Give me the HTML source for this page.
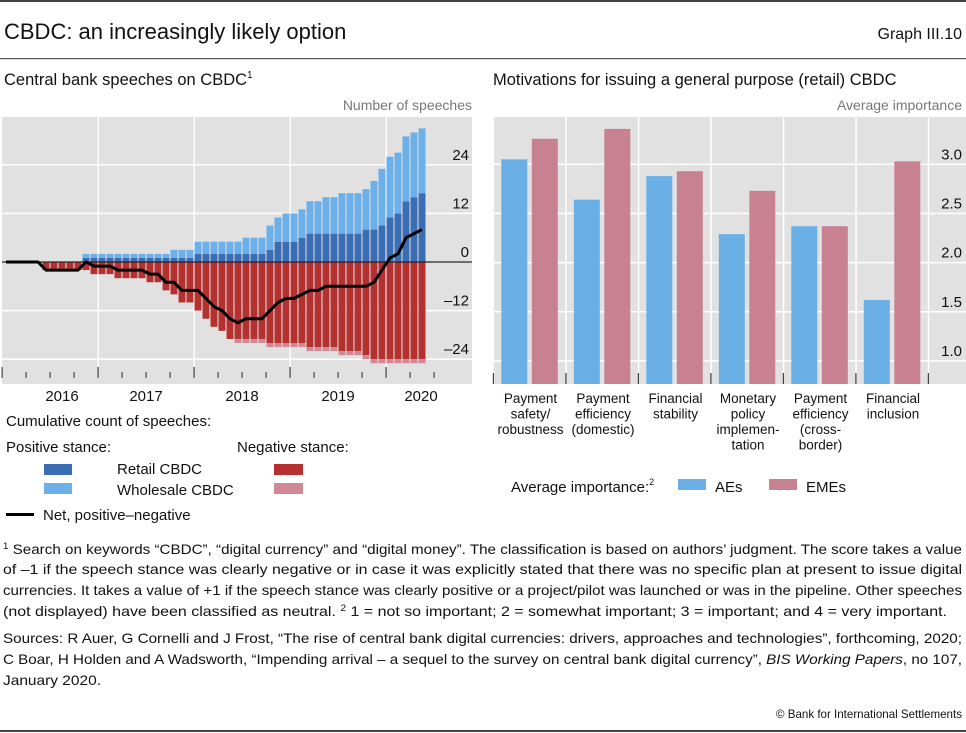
<!DOCTYPE html>
<html><head><meta charset="utf-8">
<style>
html,body{margin:0;padding:0;background:#fff;}
svg{display:block;font-family:"Liberation Sans",sans-serif;}
</style></head>
<body>
<svg id="page" width="966" height="733" viewBox="0 0 966 733" xmlns="http://www.w3.org/2000/svg">
<rect x="0" y="0" width="966" height="2" fill="#444"/>
<text x="4" y="39" font-size="22" fill="#111">CBDC: an increasingly likely option</text>
<text x="962" y="39" font-size="16" fill="#111" text-anchor="end">Graph III.10</text>
<rect x="0" y="58" width="966" height="1.2" fill="#555"/>
<text x="4" y="85" font-size="16.5" fill="#111">Central bank speeches on CBDC<tspan font-size="10" dy="-7">1</tspan></text>
<text x="493" y="85" font-size="16.5" fill="#111">Motivations for issuing a general purpose (retail) CBDC</text>
<text x="472" y="110" font-size="14" fill="#777" text-anchor="end">Number of speeches</text>
<text x="962" y="110" font-size="14" fill="#777" text-anchor="end">Average importance</text>

<rect x="2" y="117" width="470" height="267" fill="#e1e1e1"/>
<g id="left"></g>
<rect x="494" y="117" width="472" height="267" fill="#e1e1e1"/>
<g id="right"></g>

<!-- left legend -->
<text x="6" y="426" font-size="15" fill="#111">Cumulative count of speeches:</text>
<text x="6" y="452" font-size="15" fill="#111">Positive stance:</text>
<text x="237" y="452" font-size="15" fill="#111">Negative stance:</text>
<rect x="44" y="464" width="28" height="11" fill="#3b6db5"/>
<text x="117" y="474" font-size="15" fill="#111">Retail CBDC</text>
<rect x="274" y="464" width="29" height="11" fill="#b5312f"/>
<rect x="44" y="483" width="28" height="11" fill="#6bb0e8"/>
<text x="117" y="495" font-size="15" fill="#111">Wholesale CBDC</text>
<rect x="274" y="483" width="29" height="11" fill="#d08796"/>
<rect x="6" y="513" width="28" height="3" fill="#000"/>
<text x="43" y="520" font-size="15" fill="#111">Net, positive–negative</text>

<!-- right legend -->
<text x="511" y="492" font-size="15" fill="#111">Average importance:<tspan font-size="9" dy="-7">2</tspan></text>
<rect x="678" y="479" width="28" height="11" fill="#6aafe6"/>
<text x="715" y="492" font-size="15" fill="#111">AEs</text>
<rect x="769" y="479" width="28" height="11" fill="#c88191"/>
<text x="806" y="492" font-size="15" fill="#111">EMEs</text>

<!-- footnotes -->
<g font-size="14" fill="#111">
<text x="3" y="554" textLength="959" lengthAdjust="spacingAndGlyphs"><tspan font-size="9" dy="-5">1</tspan><tspan dy="5">  Search on keywords “CBDC”, “digital currency” and “digital money”. The classification is based on authors’ judgment. The score takes a value</tspan></text>
<text x="3" y="574" textLength="959" lengthAdjust="spacingAndGlyphs">of –1 if the speech stance was clearly negative or in case it was explicitly stated that there was no specific plan at present to issue digital</text>
<text x="3" y="595" textLength="959" lengthAdjust="spacingAndGlyphs">currencies. It takes a value of +1 if the speech stance was clearly positive or a project/pilot was launched or was in the pipeline. Other speeches</text>
<text x="3" y="616" textLength="944" lengthAdjust="spacingAndGlyphs">(not displayed) have been classified as neutral.    <tspan font-size="9" dy="-5">2</tspan><tspan dy="5">  1 = not so important; 2 = somewhat important; 3 = important; and 4 = very important.</tspan></text>
<text x="3" y="643" textLength="959" lengthAdjust="spacingAndGlyphs">Sources: R Auer, G Cornelli and J Frost, “The rise of central bank digital currencies: drivers, approaches and technologies”, forthcoming, 2020;</text>
<text x="3" y="664" textLength="959" lengthAdjust="spacingAndGlyphs">C Boar, H Holden and A Wadsworth, “Impending arrival – a sequel to the survey on central bank digital currency”, <tspan font-style="italic">BIS Working Papers</tspan>, no 107,</text>
<text x="3" y="685" textLength="98" lengthAdjust="spacingAndGlyphs">January 2020.</text>
<text x="962" y="718" font-size="12" text-anchor="end" textLength="186" lengthAdjust="spacingAndGlyphs">© Bank for International Settlements</text>
</g>
<rect x="0" y="730" width="966" height="2" fill="#444"/>
</svg>
<script>
// ---- left chart data (monthly, Jan 2016 .. May 2020) ----
const monthCount = 53;
const yearLabels = ["2016","2017","2018","2019","2020"];
const leftTicks = [24,12,0,-12,-24];
// positive retail
const posRetail = [0,0,0,0,0,0,0,0,0,0,1,1,1,1,1,1,1,1,1,1,1,1,1,1,2,2,2,2,2,2,2,2,2,3,5,5,5,6,7,7,7,7,7,7,7,8,8,9,11,12,15,16,17];
// positive wholesale
const posWholesale = [0,0,0,0,0,0,0,0,0,0,1,1,1,1,1,1,1,1,1,1,1,2,2,2,3,3,3,3,3,3,4,4,4,6,6,7,7,7,8,8,9,9,10,10,10,10,12,14,15,15,16,16,16];
// negative retail (magnitude)
const negRetail = [0,0,0,0,0,2,2,2,2,2,2,3,3,3,4,4,4,4,5,5,7,8,10,10,12,14,16,17,19,19,19,19,19,20,20,20,20,20,21,21,21,21,22,22,22,23,24,24,24,24,24,24,24];
// negative wholesale (magnitude)
const negWholesale = [0,0,0,0,0,0,0,0,0,0,0,0,0,0,0,0,0,0,0,0,0,0,0,0,0,0,0,0,0,1,1,1,1,1,1,1,1,1,1,1,1,1,1,1,1,1,1,1,1,1,1,1,1];

// ---- right chart data ----
const categories = [["Payment","safety/","robustness"],["Payment","efficiency","(domestic)"],["Financial","stability"],["Monetary","policy","implemen-","tation"],["Payment","efficiency","(cross-","border)"],["Financial","inclusion"]];
const aesValues = [3.05,2.64,2.88,2.29,2.37,1.62];
const emesValues = [3.26,3.36,2.93,2.73,2.37,3.03];
const rightTicks = [3.0,2.5,2.0,1.5,1.0];

const NS = "http://www.w3.org/2000/svg";
function mk(tag, attrs, parent){
  const e = document.createElementNS(NS, tag);
  for (const k in attrs) e.setAttribute(k, attrs[k]);
  parent.appendChild(e);
  return e;
}
const lx = i => 2 + 8 * i;
const ly = v => 262 - v * 4.05;
const L = document.getElementById('left');
for (let k = 1; k < 5; k++) {
  const g = mk('rect', {x: lx(12*k)-0.5, y: 117, width: 1.5, height: 250, fill: '#fff'}, L);
  
  
}
leftTicks.forEach(t => {
  if (t !== 0) {
    const g = mk('rect', {x: 2, y: ly(t)-0.75, width: 470, height: 1.5, fill: '#fff'}, L);
    
    
  }
  const tx = mk('text', {x: 469, y: ly(t)-5, 'font-size': 15, 'text-anchor': 'end', fill: '#111'}, L);
  tx.textContent = t < 0 ? '–' + Math.abs(t) : String(t);
  
  
});
for (let q = 0; q <= 18; q++) {
  const x = lx(3*q);
  const major = q % 4 === 0;
  const t = mk('rect', {x: x-0.5, y: major ? 367 : 372, width: 1.2, height: major ? 11 : 6, fill: '#444'}, L);
  
  
}
yearLabels.forEach((y, k) => {
  const xpos = k === 0 ? 62 : (k === 4 ? 421 : lx(12*k + 6));
  const t = mk('text', {x: xpos, y: 401, 'font-size': 15, 'text-anchor': 'middle', fill: '#111'}, L);
  t.textContent = y;
  
  
});
for (let i = 0; i < monthCount; i++) {
  const x = lx(i) + 0.5, w = 7;
  const r = posRetail[i], ws = posWholesale[i], nr = negRetail[i], nw = negWholesale[i];
  if (r > 0) { const b = mk('rect', {x, y: ly(r), width: w, height: ly(0)-ly(r), fill: '#3b6db5'}, L);
      }
  if (ws > 0) { const b = mk('rect', {x, y: ly(r+ws), width: w, height: ly(r)-ly(r+ws), fill: '#6bb0e8'}, L);
      }
  if (nr > 0) { const b = mk('rect', {x, y: ly(0), width: w, height: ly(-nr)-ly(0), fill: '#b5312f'}, L);
      }
  if (nw > 0) { const b = mk('rect', {x, y: ly(-nr), width: w, height: ly(-nr-nw)-ly(-nr), fill: '#d08796'}, L);
      }
}
const zl = mk('rect', {x: 2, y: ly(0)-0.6, width: 470, height: 1.2, fill: '#222'}, L);


let pts = [];
for (let i = 0; i < monthCount; i++) {
  const net = posRetail[i] + posWholesale[i] - negRetail[i] - negWholesale[i];
  pts.push((lx(i)+4) + ',' + ly(net).toFixed(1));
}
const nl = mk('polyline', {points: pts.join(' '), fill: 'none', stroke: '#000', 'stroke-width': 3, 'stroke-linejoin': 'round'}, L);



const R = document.getElementById('right');
const cw = 72.5, rx0 = 493.3;
const ry = v => 164.3 + (3 - v) * 98.3;
rightTicks.forEach(t => {
  const g = mk('rect', {x: 494, y: ry(t)-0.75, width: 472, height: 1.5, fill: '#fff'}, R);
  
  
  const tx = mk('text', {x: 962, y: ry(t)-5, 'font-size': 15, 'text-anchor': 'end', fill: '#111'}, R);
  tx.textContent = t.toFixed(1);
  
  
});
const g35 = mk('rect', {x: 494, y: ry(3.5)-0.75, width: 472, height: 1.5, fill: '#fff'}, R);


for (let c = 1; c <= categories.length; c++) {
  const g = mk('rect', {x: rx0 + cw*c - 0.5, y: 117, width: 1.5, height: 256, fill: '#fff'}, R);
  
  
}
for (let c = 0; c <= categories.length; c++) {
  const t = mk('rect', {x: rx0 + cw*c - 0.5, y: 373, width: 1.2, height: 11, fill: '#444'}, R);
  
  
}
const base = 384;
categories.forEach((lines, c) => {
  const x0 = rx0 + cw*c;
  const a = mk('rect', {x: x0+8, y: ry(aesValues[c]), width: 26, height: base - ry(aesValues[c]), fill: '#6aafe6'}, R);
  
  
  const e = mk('rect', {x: x0+38.5, y: ry(emesValues[c]), width: 26, height: base - ry(emesValues[c]), fill: '#c88191'}, R);
  
  
  lines.forEach((ln, j) => {
    const t = mk('text', {x: x0 + cw/2 + 1, y: 403 + j*15.5, 'font-size': 13.5, 'text-anchor': 'middle', fill: '#111'}, R);
    t.textContent = ln;
    
    
  });
});
</script>
</body></html>
